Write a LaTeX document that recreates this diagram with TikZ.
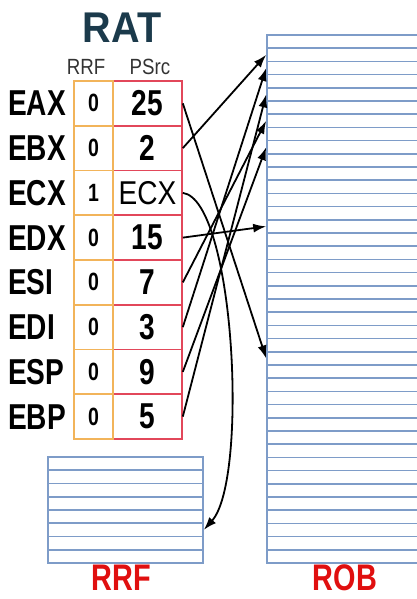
\documentclass[tikz,border=0pt]{standalone}
\usepackage{fontspec}
\setmainfont{Liberation Sans}
\newfontfamily\boldnarrow[FakeStretch=0.78]{Liberation Sans}
\newfontfamily\regnarrow[FakeStretch=0.85]{Liberation Sans}
\newfontfamily\titlefont[FakeStretch=0.92]{Liberation Sans}
\usetikzlibrary{positioning,calc,arrows.meta}
\definecolor{ratblue}{HTML}{1B3A4B}
\definecolor{bitorange}{HTML}{F2B45A}
\definecolor{psred}{HTML}{E2475A}
\definecolor{robblue}{HTML}{7E9CC8}
\definecolor{labelred}{HTML}{E00F0F}

\begin{document}
\begin{tikzpicture}[
    x=1pt, y=-1pt,
    pscell/.style={rectangle, draw=psred, line width=1.6pt, minimum width=69pt, minimum height=44.75pt, inner sep=0pt, font=\boldnarrow\bfseries\fontsize{36}{36}\selectfont},
    bitcell/.style={rectangle, draw=bitorange, line width=1.6pt, minimum width=39pt, minimum height=44.75pt, inner sep=0pt, font=\boldnarrow\bfseries\fontsize{25}{25}\selectfont},
    regname/.style={anchor=west, inner sep=0pt, font=\boldnarrow\bfseries\fontsize{36}{36}\selectfont},
    header/.style={font=\regnarrow\fontsize{22}{22}\selectfont, text=black!80},
    robrow/.style={rectangle, draw=robblue, line width=1.6pt, minimum width=170pt, minimum height=13.2pt, inner sep=0pt},
    rrfrow/.style={rectangle, draw=robblue, line width=1.6pt, minimum width=155pt, minimum height=13.25pt, inner sep=0pt},
    bigname/.style={font=\boldnarrow\bfseries\fontsize{37}{37}\selectfont, text=labelred},
    ptr/.style={-{Latex[length=13pt,width=9pt]}, line width=1.8pt},
]
\clip (0,0) rectangle (417,599);

\node[font=\titlefont\bfseries\fontsize{43}{43}\selectfont, text=ratblue] (rat) at (122,28) {RAT};
\node[header] (hrrf) at (86,67) {RRF};
\node[header] (hpsrc) at (150,67) {PSrc};

% RAT rows
\foreach \r/\b/\v [count=\i from 0] in {EAX/0/25, EBX/0/2, ECX/1/{\regnarrow\mdseries\fontsize{33}{33}\selectfont ECX}, EDX/0/15, ESI/0/7, EDI/0/3, ESP/0/9, EBP/0/5}{
    \node[pscell] (ps-\r) at (147.5, 81+44.75*\i+22.375) {\v};
    \node[bitcell] (bit-\r) at (93.5, 81+44.75*\i+22.375) {\b};
    \node[regname] (reg-\r) at (8, 81+44.75*\i+22.375) {\r};
}

% ROB and RRF entries
\foreach \k in {1,...,40}
    \node[robrow] (rob-\k) at (352, 35+13.2*\k-6.6) {};
\foreach \k in {1,...,8}
    \node[rrfrow] (rrf-\k) at (125.5, 457+13.25*\k-6.625) {};

\node[bigname] (rrflabel) at (121,578) {RRF};
\node[bigname] (roblabel) at (345,578) {ROB};

\draw[ptr] (ps-EAX.east) -- (rob-25.west);
\draw[ptr] (ps-EBX.east) -- (rob-2.west);
\draw[ptr] (ps-EDX.east) -- (rob-15.west);
\draw[ptr] (ps-ESI.east) -- (rob-7.west);
\draw[ptr] (ps-EDI.east) -- (rob-3.west);
\draw[ptr] (ps-ESP.east) -- (rob-9.west);
\draw[ptr] (ps-EBP.east) -- (rob-5.west);
\draw[ptr] (ps-ECX.east) .. controls +(52,7) and +(45,-50) .. (rrf-6.east);

\end{tikzpicture}
\end{document}
